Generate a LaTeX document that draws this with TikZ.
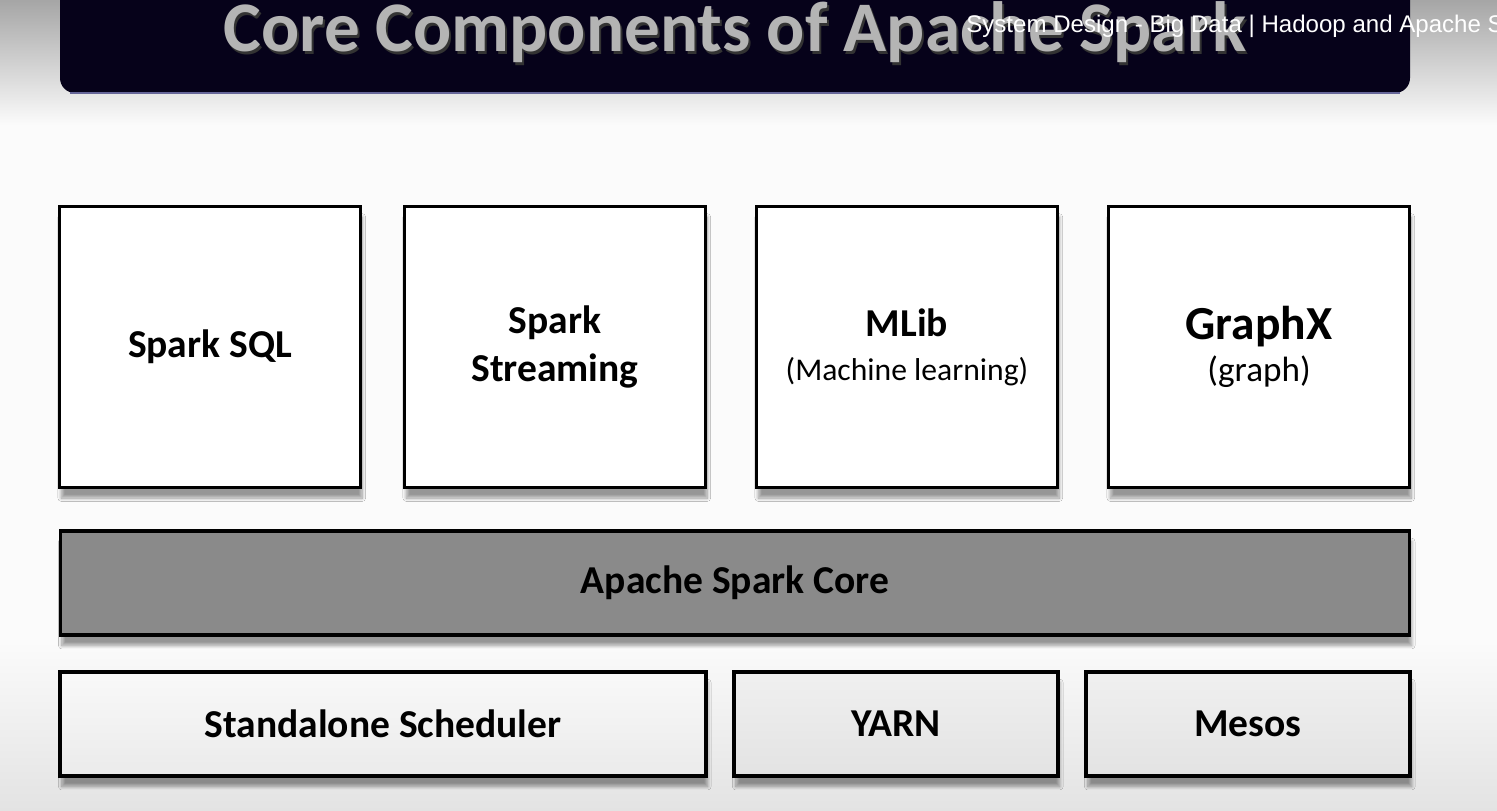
\documentclass[tikz,border=0pt]{standalone}
\usepackage{fontspec}
\setmainfont{Carlito}
\newfontfamily\overlayfont{Liberation Sans}
\usepackage{xcolor}
\usetikzlibrary{positioning, shadows.blur}
\definecolor{bannerblue}{RGB}{6,2,26}
\definecolor{titlegray}{RGB}{180,180,180}
\definecolor{coregray}{RGB}{138,138,138}

\begin{document}
\begin{tikzpicture}[x=0.02cm, y=-0.02cm,
    every node/.style={font=\fontsize{22.5}{27}\selectfont\bfseries},
    layerbox/.style={draw=black, line width=1.8pt, inner sep=0pt,
      blur shadow={shadow xshift=1pt, shadow yshift=-6pt, shadow blur steps=10, shadow opacity=40}},
    appbox/.style={layerbox, fill=white, minimum width=6.02cm, minimum height=5.62cm, align=center},
    schedbox/.style 2 args={layerbox, minimum height=2.08cm, top color=#1, bottom color=#2}]
  \useasboundingbox (0,0) rectangle (1497,811);
  \clip (0,0) rectangle (1497,811);
  % background
  \fill[white!97!gray] (0,0) rectangle (1497,811);
  \shade[top color=gray!70, bottom color=white!97!gray] (0,0) rectangle (1497,125);
  \shade[top color=white!97!gray, bottom color=gray!22] (0,640) rectangle (1497,811);
  % title banner
  \fill[bannerblue, rounded corners=0.3cm] (60,-40) rectangle (1410,93);
  \draw[blue!20!gray, line width=0.8pt] (70,93) -- (1400,93);
  \node[text=black!80, font=\fontsize{40.5}{44}\selectfont\bfseries, anchor=base] at (737,55) {Core Components of Apache Spark};
  \node[text=titlegray, font=\fontsize{40.5}{44}\selectfont\bfseries, anchor=base] (title) at (735,52) {Core Components of Apache Spark};
  % libraries
  \foreach \x/\nm/\txt in {
      210/sql/{Spark SQL},
      555/streaming/{Spark\\Streaming},
      907/mlib/{MLib\\[-2pt]{\fontsize{18}{20}\selectfont\mdseries(Machine learning)}},
      1259/graphx/{{\fontsize{27}{28}\selectfont GraphX}\\[-3pt]{\fontsize{20}{22}\selectfont\mdseries(graph)}}}{
    \node[appbox] (\nm) at (\x,347) {\txt};
  }
  % core
  \node[layerbox, fill=coregray, minimum width=27cm, minimum height=2.08cm] (core) at (735,583) {Apache Spark Core};
  % cluster managers
  \node[schedbox={gray!5}{gray!16}, minimum width=12.92cm] (standalone) at (383,724) {Standalone Scheduler};
  \node[schedbox={gray!12}{gray!22}, minimum width=6.48cm] (yarn) at (896,724) {YARN};
  \node[schedbox={gray!12}{gray!22}, minimum width=6.48cm] (mesos) at (1248,724) {Mesos};
  % video overlay
  \node[text=white, font=\overlayfont\fontsize{13.7}{16}\selectfont, anchor=base west, inner sep=0pt] (overlay) at (966,33) {System Design - Big Data | Hadoop and Apache S};
\end{tikzpicture}
\end{document}
